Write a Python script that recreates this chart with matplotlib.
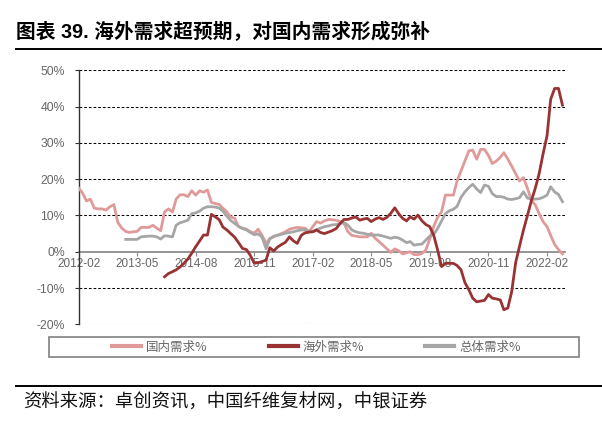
import numpy as np
import pandas as pd
import matplotlib
matplotlib.use("Agg")
import matplotlib.pyplot as plt
import matplotlib.dates as mdates
from matplotlib.lines import Line2D
from matplotlib.patches import Rectangle

plt.rcParams['font.family'] = ['Liberation Sans', 'Noto Sans CJK SC', 'DejaVu Sans']

# 月度数据 2012-02 ~ 2022-06
months = pd.date_range('2012-02-01', periods=125, freq='MS')

domestic = [
    17.5, 16.2, 14.0, 14.5, 12.0, 11.8, 11.8, 11.5, 12.4, 13.0,
    8.1, 6.5, 5.6, 5.3, 5.5, 5.6, 6.7, 6.7, 6.7, 7.3,
    6.5, 5.8, 11.0, 11.8, 10.9, 14.5, 15.7, 15.7, 15.2, 16.8,
    15.6, 16.8, 16.4, 17.0, 13.6, 13.3, 13.0, 12.0, 11.0, 9.6,
    9.2, 6.9, 6.5, 6.2, 5.5, 5.1, 6.2, 4.5, 2.3, 3.6,
    4.1, 4.6, 5.0, 5.5, 6.2, 6.5, 6.7, 6.6, 6.5, 5.5,
    7.0, 8.3, 7.9, 8.5, 8.9, 8.8, 8.7, 8.3, 7.8, 5.5,
    4.5, 4.3, 4.1, 4.1, 4.1, 5.1, 3.7, 2.8, 1.8, 0.8,
    -0.2, 0.8, 0.3, -0.6, -0.3, 0.0, -0.8, -0.8, -0.5, 0.5,
    3.5, 7.0, 9.5, 11.0, 15.6, 15.6, 15.6, 19.5, 22.3, 25.0,
    27.8, 28.0, 25.5, 28.2, 28.2, 26.5, 24.3, 25.0, 26.0, 27.3,
    25.5, 23.6, 21.5, 19.5, 20.4, 17.5, 14.2, 12.9, 10.5, 8.3,
    6.9, 4.5, 2.0, 0.6, -0.6,
]

overseas = [np.nan] * 22 + [
    -6.9, -6.0, -5.5, -5.0, -4.2, -3.2, -2.0, -0.4,
    1.4, 3.0, 4.6, 4.6, 10.3, 9.6, 8.8, 6.8, 6.0, 5.0,
    4.0, 2.5, 0.9, 0.6, -1.0, -3.2, -3.0, -2.7, -2.3, 1.1,
    0.2, 1.3, 2.0, 2.6, 4.1, 3.0, 2.3, 4.5, 5.2, 5.4,
    5.5, 6.0, 5.3, 5.0, 5.4, 5.8, 6.4, 7.8, 8.9, 8.9,
    9.3, 9.6, 8.7, 9.0, 9.2, 8.3, 9.0, 9.4, 8.9, 9.5,
    10.6, 12.1, 10.5, 9.2, 8.5, 9.6, 9.0, 10.1, 8.5, 7.5,
    6.9, 4.5, 0.5, -4.1, -3.2, -3.2, -3.2, -3.8, -5.0, -8.5,
    -10.5, -12.8, -13.8, -13.6, -13.4, -11.8, -12.8, -13.0, -13.3, -16.0,
    -15.5, -11.0, -3.0, 1.5, 6.0, 10.0, 14.0, 17.5, 21.5, 27.0,
    32.0, 42.0, 45.0, 45.0, 40.4,
]

total = [np.nan] * 12 + [
    3.4, 3.4, 3.4, 3.4, 4.1, 4.2, 4.3, 4.3,
    4.1, 3.5, 4.4, 4.3, 4.1, 7.3, 8.0, 8.3, 8.7, 10.5,
    10.7, 11.2, 12.0, 12.4, 12.4, 12.3, 12.0, 11.2, 9.8, 8.6,
    7.8, 7.0, 6.4, 6.0, 5.3, 4.7, 4.9, 4.0, 0.8, 3.6,
    4.3, 4.5, 4.8, 5.1, 5.3, 5.5, 5.8, 6.0, 6.0, 5.6,
    5.6, 6.1, 6.5, 6.9, 7.1, 7.4, 7.5, 7.8, 8.0, 7.3,
    6.0, 5.5, 5.2, 5.1, 4.8, 4.6, 4.6, 4.6, 4.3, 4.0,
    3.7, 4.0, 3.8, 3.2, 2.5, 2.8, 1.8, 2.0, 2.1, 3.2,
    4.3, 4.8, 6.4, 8.5, 10.5, 11.3, 11.7, 12.5, 15.0, 16.5,
    17.7, 18.6, 17.3, 16.3, 18.4, 18.0, 16.0, 15.2, 15.2, 15.0,
    14.5, 14.4, 14.6, 14.9, 16.5, 14.8, 14.5, 14.5, 14.6, 15.0,
    15.6, 17.9, 16.5, 15.8, 13.8,
]

series_names = ['国内需求%', '海外需求%', '总体需求%']
series_colors = ['#e09a9a', '#993333', '#a6a6a6']
y_ticks = [-20, -10, 0, 10, 20, 30, 40, 50]
x_ticks = pd.date_range('2012-02-01', periods=9, freq='15MS')

fig = plt.figure(figsize=(6.02, 4.21), dpi=100)
ax = fig.add_axes([0.1309, 0.2297, 0.8083, 0.6033])

# 虚线网格（0 轴用实线）
for v in y_ticks:
    if v != 0:
        ax.axhline(v, color='black', lw=0.75, linestyle=(0, (2.6, 1.9)), zorder=1)

l_dom, = ax.plot(months, domestic, color=series_colors[0], lw=2.0, zorder=3)
l_tot, = ax.plot(months, total, color=series_colors[2], lw=2.0, zorder=3)
l_ovs, = ax.plot(months, overseas, color=series_colors[1], lw=2.0, zorder=4)

ax.set_ylim(-20, 50)
ax.set_xlim(pd.Timestamp('2012-02-01'), pd.Timestamp('2022-06-24'))
ax.set_yticks(y_ticks)
ax.set_yticklabels([f'{v}%' for v in y_ticks])
ax.set_xticks(x_ticks)
ax.xaxis.set_major_formatter(mdates.DateFormatter('%Y-%m'))

for s in ['top', 'right']:
    ax.spines[s].set_visible(False)
ax.spines['left'].set_color('#333333')
ax.spines['left'].set_linewidth(1.0)
ax.spines['bottom'].set_position(('data', 0))
ax.spines['bottom'].set_color('#8c8c8c')
ax.spines['bottom'].set_linewidth(1.3)
ax.spines['bottom'].set_zorder(2)

ax.tick_params(axis='y', direction='out', length=3, width=0.8, color='#333333',
               labelsize=8.8, labelcolor='#666666', pad=7)
ax.tick_params(axis='x', direction='out', length=3, width=0.8, color='#8c8c8c',
               labelsize=8.5, labelcolor='#666666', pad=1.5)

# 标题
fig.text(0.0266, 0.924, '图表 39. 海外需求超预期，对国内需求形成弥补',
         fontsize=14.2, fontweight='bold', color='black', va='center', ha='left',
         family=['Liberation Sans', 'Noto Sans CJK SC'])
fig.add_artist(Line2D([0.0266, 1.0], [0.8836, 0.8836], color='black', lw=1.4))

# 图例
fig.add_artist(Rectangle((0.0806, 0.152), 0.882, 0.0475, transform=fig.transFigure,
                         fill=False, edgecolor='#808080', lw=1.2))
leg = fig.legend([l_dom, l_ovs, l_tot], series_names, loc='center',
                 bbox_to_anchor=(0.5258, 0.1758), ncol=3, frameon=False,
                 handlelength=2.3, handletextpad=0.4, columnspacing=4.9,
                 prop={'family': ['Noto Sans CJK SC'], 'size': 9})
for t in leg.get_texts():
    t.set_color('#666666')
for h in leg.get_lines():
    h.set_linewidth(3.0)

# 资料来源
fig.add_artist(Line2D([0.0266, 1.0], [0.0838, 0.0838], color='black', lw=1.4))
fig.text(0.038, 0.0428, '资料来源：卓创资讯，中国纤维复材网，中银证券',
         fontsize=13.2, color='#111111', va='center', ha='left',
         family=['Noto Sans CJK SC'])

fig.savefig('out.png', dpi=100)
